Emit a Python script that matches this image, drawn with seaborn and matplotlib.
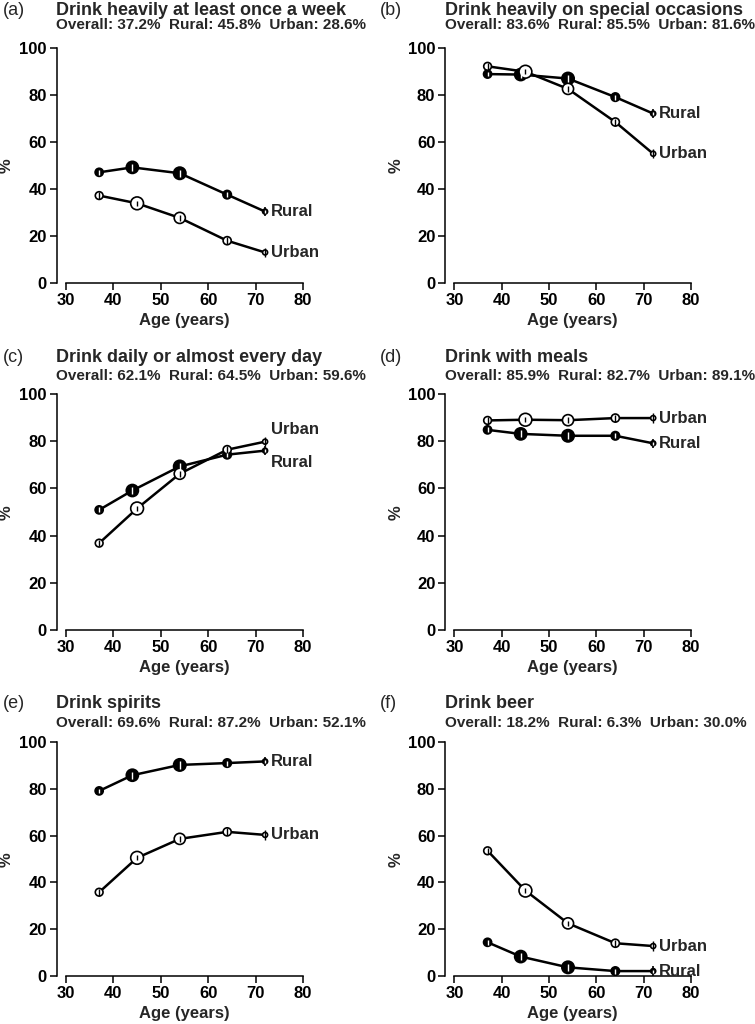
import numpy as np
import pandas as pd
import matplotlib
matplotlib.use("Agg")
import matplotlib.pyplot as plt
import seaborn as sns

sns.set_theme(style="ticks")
plt.rcParams['font.family'] = ['Liberation Sans', 'DejaVu Sans']
plt.rcParams['font.weight'] = 'bold'

# ---------------- data ----------------
rural_age = [37, 44, 54, 64, 72]
urban_age = [37, 45, 54, 64, 72]
# relative sample sizes (marker area)
rural_n = [550, 1250, 1300, 600, 200]
urban_n = [500, 1400, 1050, 550, 200]
# approximate 95% CI half-widths (percentage points)
rural_ci = [1.3, 1.0, 1.0, 1.3, 2.0]
urban_ci = [1.4, 1.0, 1.2, 1.5, 2.0]

panel_tags = ["(a)", "(b)", "(c)", "(d)", "(e)", "(f)"]
panel_titles = [
    "Drink heavily at least once a week",
    "Drink heavily on special occasions",
    "Drink daily or almost every day",
    "Drink with meals",
    "Drink spirits",
    "Drink beer",
]
overall_pct = [37.2, 83.6, 62.1, 85.9, 69.6, 18.2]
rural_pct = [45.8, 85.5, 64.5, 82.7, 87.2, 6.3]
urban_pct = [28.6, 81.6, 59.6, 89.1, 52.1, 30.0]

rural_a = [47.1, 49.2, 46.7, 37.6, 30.4]
urban_a = [37.2, 33.9, 27.7, 18.0, 13.0]
rural_b = [88.9, 88.7, 87.0, 79.1, 72.1]
urban_b = [92.2, 89.9, 82.6, 68.5, 55.0]
rural_c = [50.9, 59.1, 69.3, 74.3, 76.0]
urban_c = [36.8, 51.5, 66.2, 76.4, 79.8]
rural_d = [84.8, 83.1, 82.3, 82.3, 79.1]
urban_d = [88.8, 89.1, 88.9, 89.8, 89.8]
rural_e = [79.1, 85.8, 90.2, 91.0, 91.7]
urban_e = [35.8, 50.5, 58.6, 61.6, 60.3]
rural_f = [14.4, 8.3, 3.7, 2.1, 2.1]
urban_f = [53.5, 36.5, 22.5, 14.0, 12.8]

rural_vals = [rural_a, rural_b, rural_c, rural_d, rural_e, rural_f]
urban_vals = [urban_a, urban_b, urban_c, urban_d, urban_e, urban_f]

x_ticks = [30, 40, 50, 60, 70, 80]
y_ticks = [0, 20, 40, 60, 80, 100]

# ---------------- layout ----------------
W, H = 755, 1024
fig = plt.figure(figsize=(W / 100, H / 100), dpi=100)

col_x = [(56.5, 312.5), (445.0, 700.5)]          # px for x = 28 .. 82
row_y = [(283.0, 48.0), (630.0, 394.0), (976.0, 742.0)]  # px for y = 0, 100
title_base = [15, 362, 708]
sub_base = [29, 380, 727]
tag_x = [3, 380]
ylab_x = [14, 404]

label_offsets = {2: {"Rural": -5.0, "Urban": 5.0}}

size_rng = (13, 85)
n_all = rural_n + urban_n
size_norm = (min(n_all), max(n_all))

def fy(px):
    return 1 - px / H

for i in range(6):
    r, c = divmod(i, 2)
    x0, x1 = col_x[c]
    yb, y100 = row_y[r]
    ppu = (yb - y100) / 100.0
    ytop = yb - 104 * ppu
    ax = fig.add_axes([x0 / W, fy(yb), (x1 - x0) / W, (yb - ytop) / H])

    df = pd.DataFrame({
        "age": rural_age + urban_age,
        "pct": rural_vals[i] + urban_vals[i],
        "n": rural_n + urban_n,
        "ci": rural_ci + urban_ci,
        "area": ["Rural"] * 5 + ["Urban"] * 5,
    })
    dr = df[df.area == "Rural"]
    du = df[df.area == "Urban"]

    # lines
    sns.lineplot(data=df, x="age", y="pct", units="area", estimator=None,
                 color="black", lw=1.8, ax=ax, zorder=2, legend=False)
    # rural error bars (under markers)
    ax.vlines(dr.age, dr.pct - dr.ci, dr.pct + dr.ci, color="black", lw=1.2, zorder=3)
    # markers
    sns.scatterplot(data=dr, x="age", y="pct", size="n", sizes=size_rng,
                    size_norm=size_norm, color="black", edgecolor="black",
                    linewidth=1.2, ax=ax, zorder=4, legend=False)
    sns.scatterplot(data=du, x="age", y="pct", size="n", sizes=size_rng,
                    size_norm=size_norm, color="white", edgecolor="black",
                    linewidth=1.2, ax=ax, zorder=4, legend=False)
    # white stripe inside rural markers
    sns.scatterplot(data=dr, x="age", y="pct", size="n",
                    sizes=(size_rng[0] * 0.35, size_rng[1] * 0.35),
                    size_norm=size_norm, marker="|", color="white",
                    linewidth=1.0, ax=ax, zorder=5, legend=False)
    # urban error bars (over markers)
    ax.vlines(du.age, du.pct - du.ci, du.pct + du.ci, color="black", lw=1.0, zorder=5)

    # series labels
    offs = label_offsets.get(i, {})
    ax.text(73.3, rural_vals[i][-1] + offs.get("Rural", 0), "Rural",
            fontsize=12, fontweight="bold", va="center", ha="left")
    ax.text(73.3, urban_vals[i][-1] + offs.get("Urban", 0), "Urban",
            fontsize=12, fontweight="bold", va="center", ha="left")

    ax.set_xlim(28, 82)
    ax.set_ylim(0, 104)
    ax.set_xticks(x_ticks)
    ax.set_yticks(y_ticks)
    ax.set_xticklabels([str(t) for t in x_ticks], fontsize=12, fontweight="bold")
    ax.set_yticklabels([str(t) for t in y_ticks], fontsize=12, fontweight="bold")
    for side in ["top", "right"]:
        ax.spines[side].set_visible(False)
    ax.spines["left"].set_bounds(0, 100)
    ax.spines["bottom"].set_bounds(30, 80)
    for side in ["left", "bottom"]:
        ax.spines[side].set_linewidth(1.1)
        ax.spines[side].set_color("black")
    ax.tick_params(axis="both", direction="out", length=5, width=1.1,
                   color="black", pad=2, labelcolor="black")
    ax.set_xlabel("Age (years)", fontsize=12, fontweight="bold", labelpad=4)
    ax.set_ylabel("%", fontsize=12, fontweight="bold")
    ax.yaxis.set_label_coords((ylab_x[c] - x0) / (x1 - x0), 0.48)
    ax.patch.set_alpha(0)

    # titles
    fig.text(tag_x[c] / W, fy(title_base[r]), panel_tags[i], fontsize=13,
             fontweight="normal", va="baseline", ha="left")
    fig.text(x0 / W, fy(title_base[r]), panel_titles[i], fontsize=13,
             fontweight="bold", va="baseline", ha="left")
    fig.text(x0 / W, fy(sub_base[r]),
             f"Overall: {overall_pct[i]:.1f}%  Rural: {rural_pct[i]:.1f}%  Urban: {urban_pct[i]:.1f}%",
             fontsize=11, fontweight="bold", va="baseline", ha="left")

fig.savefig("out.png", dpi=100, facecolor="white")
